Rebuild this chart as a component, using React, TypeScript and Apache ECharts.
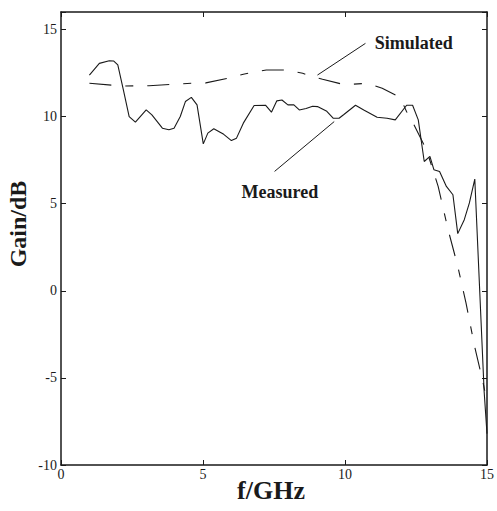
import React, { useEffect, useRef } from "react";
import * as echarts from "echarts";

const measuredFreq = [
  1.0, 1.35, 1.7, 1.85, 2.0, 2.2, 2.4, 2.62, 3.0, 3.2, 3.57, 3.8, 3.98, 4.2, 4.38, 4.59, 4.79,
  5.01, 5.17, 5.38, 5.73, 6.0, 6.18, 6.42, 6.8, 7.2, 7.41, 7.6, 7.78, 7.99, 8.2, 8.39, 8.63,
  8.86, 9.03, 9.36, 9.59, 9.79, 9.95, 10.37, 10.66, 11.13, 11.48, 11.77, 12.17, 12.38, 12.58,
  12.79, 12.99, 13.13, 13.33, 13.57, 13.8, 13.97, 14.2, 14.38, 14.57, 14.9, 15.0,
];
const measuredGain = [
  12.38, 13.05, 13.2, 13.19, 12.96, 11.5, 10.0, 9.68, 10.38, 10.1, 9.33, 9.24, 9.33, 10.0, 10.86,
  11.1, 10.67, 8.43, 9.05, 9.3, 8.98, 8.62, 8.76, 9.62, 10.63, 10.65, 10.25, 10.9, 10.95, 10.67,
  10.67, 10.38, 10.46, 10.59, 10.57, 10.3, 9.9, 9.9, 10.1, 10.65, 10.38, 9.96, 9.9, 9.81, 10.65,
  10.65, 9.81, 7.42, 7.71, 6.95, 6.85, 5.99, 5.51, 3.28, 4.08, 5.04, 6.41, -5.8, -8.2,
];
const simulatedFreq = [
  1.0, 2.17, 3.1, 4.61, 5.1, 5.9, 6.42, 7.23, 7.99, 8.51, 8.74, 9.21, 9.97, 10.2, 10.78, 11.31,
  11.94, 12.17, 12.34, 12.87, 13.28, 13.63, 13.97, 14.26, 14.56, 14.85, 15.0,
];
const simulatedGain = [
  11.91, 11.75, 11.77, 11.91, 11.93, 12.2, 12.43, 12.67, 12.67, 12.48, 12.35, 12.14, 11.83, 11.85,
  11.91, 11.62, 11.1, 10.28, 9.81, 8.09, 5.99, 3.51, 1.41, -0.69, -3.17, -5.17, -6.4,
];

const xTickValues = [0, 5, 10, 15];
const yTickValues = [-10, -5, 0, 5, 10, 15];

const seriesNames = ["Measured", "Simulated"];
// annotation anchors in data coordinates: label position, leader start, leader end
const simulatedNote = { label: [11.05, 14.22], from: [10.72, 14.2], to: [9.03, 12.38] };
const measuredNote = { label: [6.36, 5.66], from: [9.62, 9.71], to: [7.52, 6.85] };

const FONT = "'Liberation Serif', 'Times New Roman', Times, serif";
const INK = "#1a1a1a";

export default function App() {
  const ref = useRef<HTMLDivElement>(null);

  useEffect(() => {
    if (!ref.current) return;
    const chart = echarts.init(ref.current, undefined, { renderer: "svg" });

    const axisLine = { show: true, onZero: false, lineStyle: { color: INK, width: 1.5 } };
    const tick = { show: true, inside: true, length: 5, lineStyle: { color: INK, width: 1 } };
    const labelStyle = { fontFamily: FONT, fontSize: 14, color: INK };

    chart.setOption({
      animation: false,
      backgroundColor: "#ffffff",
      grid: { left: 61, top: 12, right: 6, bottom: 46, containLabel: false },
      xAxis: [
        {
          type: "value",
          position: "bottom",
          min: xTickValues[0],
          max: xTickValues[xTickValues.length - 1],
          interval: 5,
          axisLine,
          axisTick: tick,
          axisLabel: { ...labelStyle, margin: 2 },
          splitLine: { show: false },
        },
        {
          type: "value",
          position: "top",
          min: xTickValues[0],
          max: xTickValues[xTickValues.length - 1],
          interval: 5,
          axisLine,
          axisTick: tick,
          axisLabel: { show: false },
          splitLine: { show: false },
        },
      ],
      yAxis: [
        {
          type: "value",
          position: "left",
          min: yTickValues[0],
          max: 16,
          interval: 5,
          axisLine,
          axisTick: tick,
          axisLabel: {
            ...labelStyle,
            margin: 4,
            formatter: (v: number) => (yTickValues.includes(v) ? String(v) : ""),
          },
          splitLine: { show: false },
        },
        {
          type: "value",
          position: "right",
          min: yTickValues[0],
          max: 16,
          interval: 5,
          axisLine,
          axisTick: tick,
          axisLabel: { show: false },
          splitLine: { show: false },
        },
      ],
      series: [
        {
          name: seriesNames[0],
          type: "line",
          data: measuredFreq.map((f, i) => [f, measuredGain[i]]),
          showSymbol: false,
          symbol: "none",
          lineStyle: { color: INK, width: 1.1 },
        },
        {
          name: seriesNames[1],
          type: "line",
          data: simulatedFreq.map((f, i) => [f, simulatedGain[i]]),
          showSymbol: false,
          symbol: "none",
          lineStyle: { color: INK, width: 1.1, type: [22, 14, 8, 14] },
        },
      ],
    });

    const px = (p: number[]) => chart.convertToPixel({ gridIndex: 0 }, p) as number[];
    const notes = [
      { note: simulatedNote, text: seriesNames[1] },
      { note: measuredNote, text: seriesNames[0] },
    ];
    const graphics: any[] = [];
    notes.forEach(({ note, text }) => {
      const a = px(note.from);
      const b = px(note.to);
      const l = px(note.label);
      graphics.push({
        type: "line",
        shape: { x1: a[0], y1: a[1], x2: b[0], y2: b[1] },
        style: { stroke: INK, lineWidth: 1 },
      });
      graphics.push({
        type: "text",
        x: l[0],
        y: l[1],
        style: {
          text,
          font: `bold 18px ${FONT}`,
          fill: INK,
          align: "left",
          verticalAlign: "middle",
        },
      });
    });
    graphics.push({
      type: "text",
      x: 271,
      y: 490,
      style: {
        text: "f/GHz",
        font: `bold 26px ${FONT}`,
        fill: INK,
        align: "center",
        verticalAlign: "middle",
      },
    });
    graphics.push({
      type: "text",
      x: 18,
      y: 224,
      rotation: Math.PI / 2,
      style: {
        text: "Gain/dB",
        font: `bold 24px ${FONT}`,
        fill: INK,
        align: "center",
        verticalAlign: "middle",
      },
    });
    chart.setOption({ graphic: graphics });

    return () => chart.dispose();
  }, []);

  return (
    <div
      ref={ref}
      style={{ position: "fixed", left: 0, top: 0, width: 497, height: 511, background: "#fff" }}
    />
  );
}
